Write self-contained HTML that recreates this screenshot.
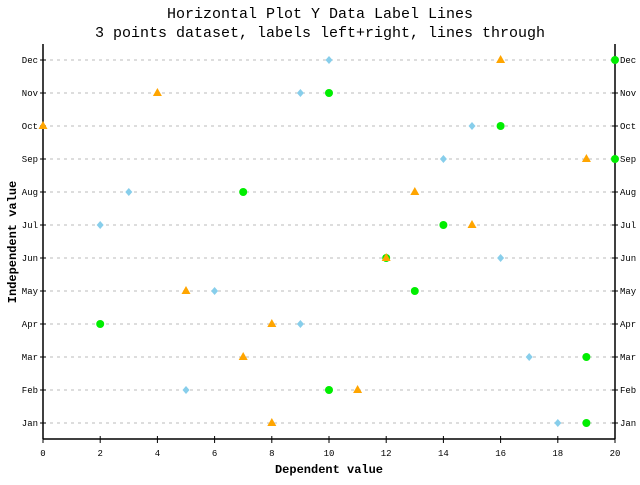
<!DOCTYPE html>
<html><head><meta charset="utf-8"><style>
body{margin:0;background:#fff}
svg text{font-family:"Liberation Mono","DejaVu Sans Mono",monospace}
</style></head><body>
<svg id="c" width="640" height="480" xmlns="http://www.w3.org/2000/svg">
<rect width="640" height="480" fill="#fff"/>
<text x="320" y="18" text-anchor="middle" font-size="15">Horizontal Plot Y Data Label Lines</text>
<text x="320" y="37" text-anchor="middle" font-size="15">3 points dataset, labels left+right, lines through</text>
<text x="329" y="473" text-anchor="middle" font-size="12" font-weight="bold">Dependent value</text>
<text x="16" y="242" text-anchor="middle" font-size="12" font-weight="bold" transform="rotate(-90 16 242)">Independent value</text>
<g id="g"></g>
</svg>
<script>
const categories=["Jan","Feb","Mar","Apr","May","Jun","Jul","Aug","Sep","Oct","Nov","Dec"];
const seriesBlue=[18,5,17,9,6,16,2,3,14,15,9,10];
const seriesOrange=[8,11,7,8,5,12,15,13,19,0,4,16];
const seriesGreen=[19,10,19,2,13,12,14,7,20,16,10,20];
const xTicks=[0,2,4,6,8,10,12,14,16,18,20];
const L=43,R=615,T=44,B=439;
const xs=v=>L+(v-0)/(20-0)*(R-L);
const ys=i=>423-i*33;
const g=document.getElementById('g');
const NS="http://www.w3.org/2000/svg";
function mk(t,a,p){const e=document.createElementNS(NS,t);for(const k in a)e.setAttribute(k,a[k]);(p||g).appendChild(e);return e;}
categories.forEach((c,i)=>{
 const y=ys(i);
 const l=mk('line',{x1:L,x2:R,y1:y,y2:y,stroke:'#bbb','stroke-dasharray':'3,4'});
 
 
 const t1=mk('text',{x:L-5,y:y+3,'text-anchor':'end','font-size':'9'});t1.textContent=c;
 
 
 const t2=mk('text',{x:R+5,y:y+3,'font-size':'9'});t2.textContent=c;
 
 
 const tl=mk('line',{x1:L-3,x2:L+3,y1:y,y2:y,stroke:'#000'});
 
 
 const tr=mk('line',{x1:R-3,x2:R+3,y1:y,y2:y,stroke:'#000'});
 
 
});
xTicks.forEach(v=>{
 const x=xs(v);
 const tk=mk('line',{x1:x,x2:x,y1:B-3,y2:B+4,stroke:'#000'});
 
 
 const t=mk('text',{x:x,y:456,'text-anchor':'middle','font-size':'9'});t.textContent=v;
 
 
});
const ax=[[L,T,L,B],[R,T,R,B],[L,B,R,B]];
ax.forEach(a=>{const e=mk('line',{x1:a[0],y1:a[1],x2:a[2],y2:a[3],stroke:'#000','stroke-width':1.5});
 
 });
categories.forEach((c,i)=>{
 const y=ys(i);
 let x=xs(seriesBlue[i]);
 const d=mk('polygon',{points:`${x},${y-4} ${x+3.5},${y} ${x},${y+4} ${x-3.5},${y}`,fill:'#87ceeb'});
 
 
 x=xs(seriesGreen[i]);
 const ci=mk('circle',{cx:x,cy:y,r:4,fill:'#00ee00'});
 
 
 x=xs(seriesOrange[i]);
 const tr=mk('polygon',{points:`${x},${y-5} ${x+4.5},${y+3} ${x-4.5},${y+3}`,fill:'#ffa500'});
 
 
});
</script>
</body></html>
